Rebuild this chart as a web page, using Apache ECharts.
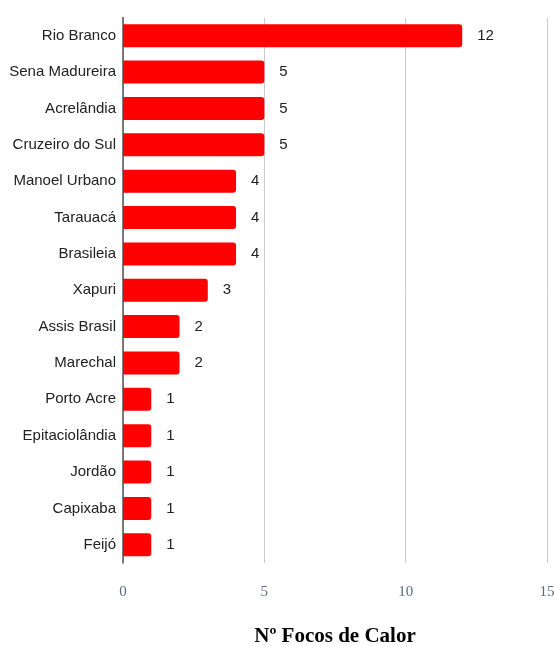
<!DOCTYPE html>
<html><head><meta charset="utf-8">
<script src="https://cdn.jsdelivr.net/npm/echarts@6/dist/echarts.min.js"></script>
<style>html,body{margin:0;padding:0;background:#fff}#c{width:555px;height:646px}</style>
</head><body><div id="c"></div>
<script>
const categories = ["Rio Branco","Sena Madureira","Acrelândia","Cruzeiro do Sul","Manoel Urbano","Tarauacá","Brasileia","Xapuri","Assis Brasil","Marechal","Porto Acre","Epitaciolândia","Jordão","Capixaba","Feijó"];
const values = [12,5,5,5,4,4,4,3,2,2,1,1,1,1,1];
const axisTitle = "Nº Focos de Calor";
const chart = echarts.init(document.getElementById('c'));
chart.setOption({
  animation:false,
  grid:{left:123,right:8,top:17.5,bottom:83,containLabel:false,outerBoundsMode:'none'},
  xAxis:{type:'value',min:0,max:15,interval:5,
    name:axisTitle,nameLocation:'middle',nameGap:63,
    nameTextStyle:{fontFamily:'Liberation Serif',fontWeight:'bold',fontSize:21,color:'#000'},
    axisLine:{show:false},axisTick:{show:false},
    axisLabel:{fontFamily:'Liberation Serif',fontSize:15,color:'#5b6b88',margin:22},
    splitLine:{lineStyle:{color:'#cccccc',width:1}}},
  yAxis:{type:'category',data:categories,inverse:true,
    axisLine:{show:true,lineStyle:{color:'#555',width:1.5}},axisTick:{show:false},
    axisLabel:{fontFamily:'Liberation Sans',fontSize:15,color:'#222',margin:7}},
  series:[{type:'bar',data:values,barWidth:23,
    itemStyle:{color:'#ff0000',borderRadius:[0,3,3,0]},
    label:{show:true,position:'right',distance:15,fontFamily:'Liberation Sans',fontSize:15,color:'#222'}}]
});
</script></body></html>
